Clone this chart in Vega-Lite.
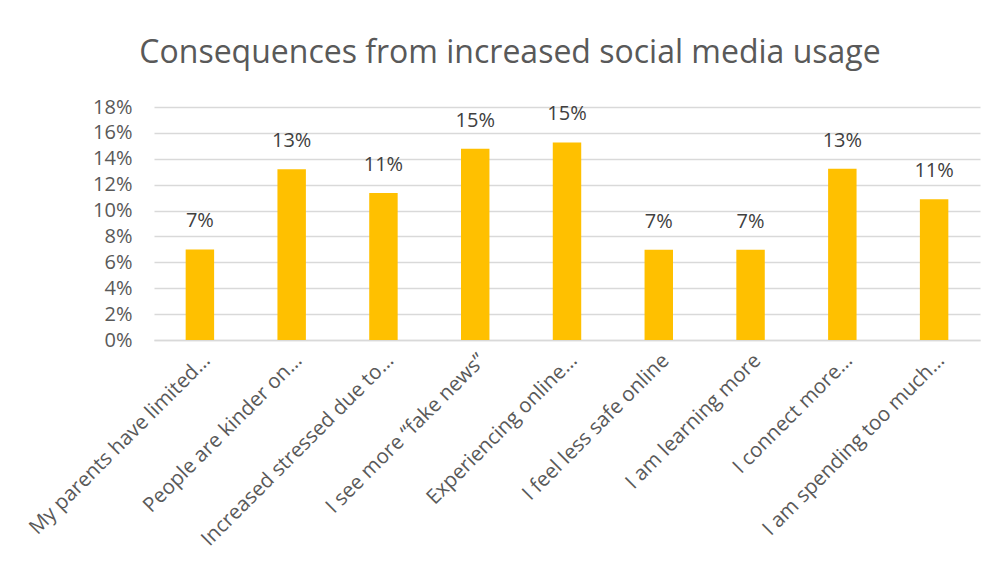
{
  "$schema": "https://vega.github.io/schema/vega-lite/v6.json",
  "width": 826,
  "height": 233,
  "autosize": {"type": "none"},
  "padding": {"left": 154, "top": 107, "right": 22, "bottom": 225},
  "background": "white",
  "config": {
    "font": "Open Sans",
    "view": {"stroke": null},
    "title": {"fontSize": 32, "fontWeight": "normal", "color": "#595959", "font": "Open Sans"}
  },
  "title": {"text": "Consequences from increased social media usage", "anchor": "middle", "dx": -57, "offset": 27},
  "data": {
    "values": [
      {"item": "My parents have limited…", "share": 0.070},
      {"item": "People are kinder on…", "share": 0.132},
      {"item": "Increased stressed due to…", "share": 0.1135},
      {"item": "I see more “fake news”", "share": 0.1477},
      {"item": "Experiencing online…", "share": 0.1526},
      {"item": "I feel less safe online", "share": 0.0697},
      {"item": "I am learning more", "share": 0.0697},
      {"item": "I connect more…", "share": 0.1322},
      {"item": "I am spending too much…", "share": 0.1088}
    ]
  },
  "encoding": {
    "x": {
      "field": "item", "type": "nominal", "sort": null, "title": null,
      "scale": {"paddingInner": 0.69, "paddingOuter": 0.345},
      "axis": {"labelAngle": -45, "labelFontSize": 20.5, "labelColor": "#595959", "ticks": false, "domainColor": "#D9D9D9", "domainWidth": 1.5, "labelPadding": 10, "labelLimit": 400}
    },
    "y": {
      "field": "share", "type": "quantitative", "title": null,
      "scale": {"domain": [0, 0.18]},
      "axis": {"values": [0, 0.02, 0.04, 0.06, 0.08, 0.1, 0.12, 0.14, 0.16, 0.18], "format": ".0%", "labelFontSize": 20, "labelColor": "#595959", "ticks": false, "domain": false, "gridColor": "#D9D9D9", "gridWidth": 1.5, "labelPadding": 22}
    }
  },
  "layer": [
    {"mark": {"type": "bar", "color": "#FFC000"}},
    {"mark": {"type": "text", "baseline": "bottom", "dy": -18, "fontSize": 20, "color": "#404040"}, "encoding": {"text": {"field": "share", "format": ".0%"}}}
  ]
}
